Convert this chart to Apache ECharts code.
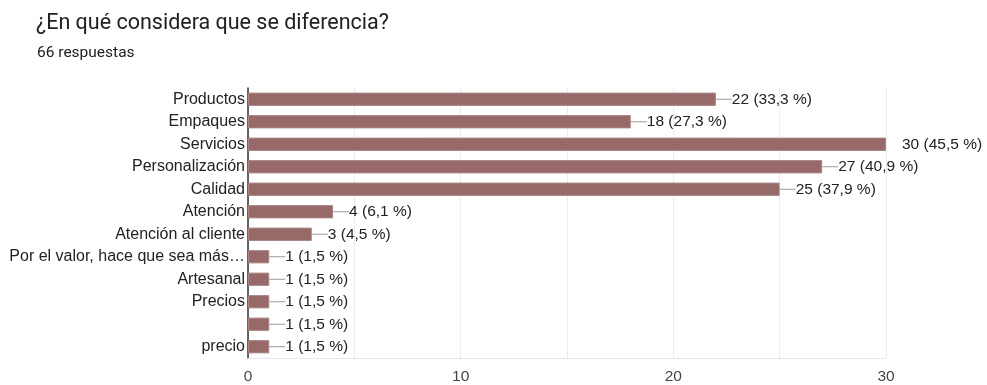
<!DOCTYPE html>
<html>
<head>
<meta charset="utf-8">
<script src="https://cdn.jsdelivr.net/npm/echarts@6/dist/echarts.min.js"></script>
<style>
  html, body { margin: 0; padding: 0; background: #fff; }
  #chart { width: 987px; height: 385px; }
</style>
</head>
<body>
<div id="chart"></div>
<script>
// Survey answers and their counts
const categories = [
  'Productos', 'Empaques', 'Servicios', 'Personalización', 'Calidad',
  'Atención', 'Atención al cliente', 'Por el valor, hace que sea más…',
  'Artesanal', 'Precios', '', 'precio'
];
const counts = [22, 18, 30, 27, 25, 4, 3, 1, 1, 1, 1, 1];
const totalResponses = 66;
const xTicks = [0, 10, 20, 30];

const chart = echarts.init(document.getElementById('chart'));
const labelFont = '"Liberation Sans", Arial, sans-serif';

function pct(v) {
  return (v / totalResponses * 100).toFixed(1).replace('.', ',');
}

chart.setOption({
  animation: false,
  title: [
    {
      text: '¿En qué considera que se diferencia?',
      left: 31, top: 8,
      textStyle: { fontFamily: 'Roboto', fontSize: 21.5, fontWeight: 'normal', color: '#202124' }
    },
    {
      text: totalResponses + ' respuestas',
      left: 32, top: 40,
      textStyle: { fontFamily: 'Roboto', fontSize: 15.5, fontWeight: 'normal', color: '#202124' }
    }
  ],
  grid: { left: 248, right: 101, top: 88, bottom: 23, containLabel: false },
  xAxis: {
    type: 'value', min: 0, max: 30, interval: 5,
    axisLine: { show: true, lineStyle: { color: '#e6e6e6' } },
    axisTick: { show: false },
    splitLine: { show: true, lineStyle: { color: '#ececec', width: 1 } },
    axisLabel: {
      margin: 11,
      fontFamily: labelFont, fontSize: 15.5, color: '#444',
      formatter: v => xTicks.includes(v) ? String(v) : ''
    }
  },
  yAxis: {
    type: 'category', inverse: true, data: categories,
    axisLine: { show: true, lineStyle: { color: '#333', width: 1.5 } },
    axisTick: { show: false },
    axisLabel: { margin: 3, fontFamily: labelFont, fontSize: 16, color: '#222' }
  },
  series: [{
    type: 'bar',
    data: counts.map((v, i) => ({
      value: v,
      label: i === 2 ? { rich: { l: { backgroundColor: 'transparent' } } } : undefined
    })),
    barWidth: '59%',
    itemStyle: { color: '#976a69', borderColor: '#a88584', borderWidth: 1 },
    label: {
      show: true, position: 'right', distance: 0,
      formatter: p => '{l|}{t|' + p.value + ' (' + pct(p.value) + ' %)}',
      rich: {
        l: { width: 16, height: 1, backgroundColor: '#9a9a9a' },
        t: { fontFamily: labelFont, fontSize: 15.5, color: '#222' }
      }
    }
  }]
});
</script>
</body>
</html>
